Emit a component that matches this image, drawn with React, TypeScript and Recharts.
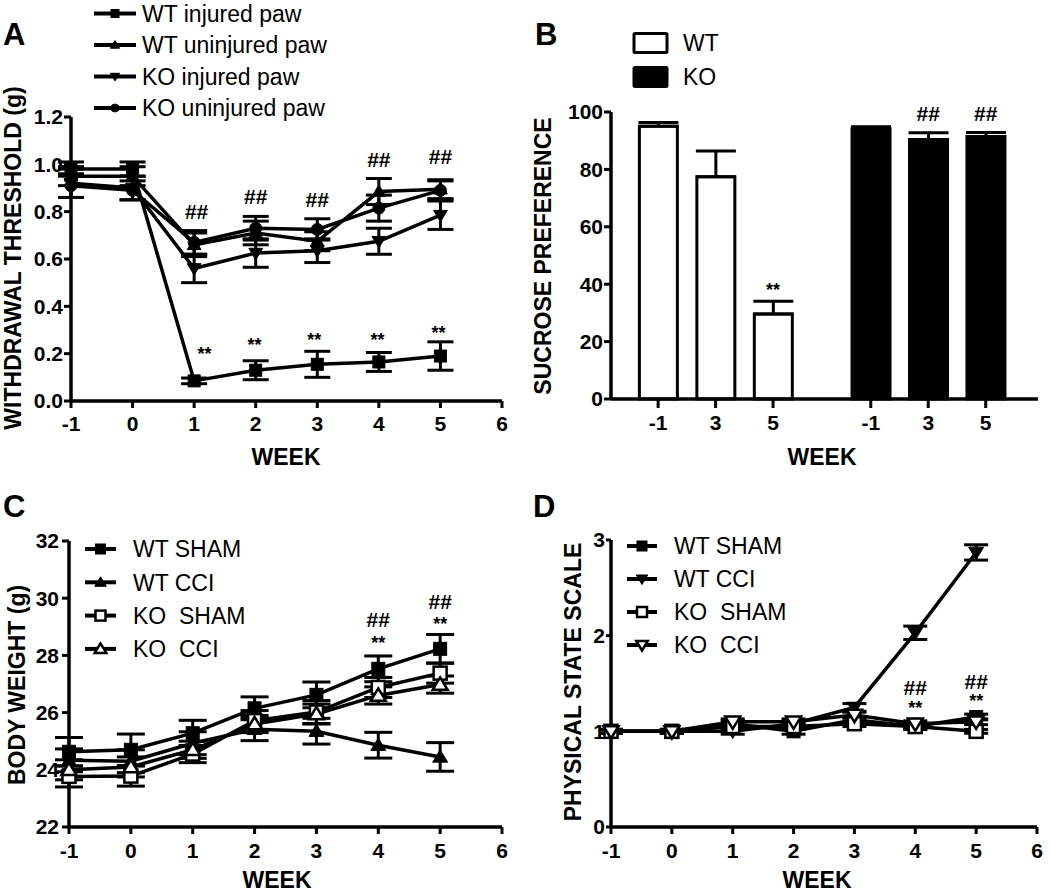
import React from 'react';
import {
  LineChart, Line, BarChart, Bar, Cell, XAxis, YAxis, ErrorBar, ReferenceDot, Legend,
} from 'recharts';

const FONT = '"Liberation Sans", Arial, Helvetica, sans-serif';

// ---------- shared ----------
const WEEKS = [-1, 0, 1, 2, 3, 4, 5];
const WEEK_TICKS = [-1, 0, 1, 2, 3, 4, 5, 6];

// ---------- Panel A: withdrawal threshold ----------
const A_WT_INJ = [0.98, 0.98, 0.085, 0.13, 0.155, 0.165, 0.19];
const A_WT_INJ_ERR = [0.03, 0.03, 0.012, 0.04, 0.055, 0.04, 0.06];
const A_WT_UNINJ = [0.95, 0.95, 0.66, 0.71, 0.675, 0.885, 0.895];
const A_WT_UNINJ_ERR = [0.04, 0.04, 0.05, 0.05, 0.04, 0.055, 0.04];
const A_KO_INJ = [0.92, 0.9, 0.56, 0.625, 0.635, 0.675, 0.785];
const A_KO_INJ_ERR = [0.06, 0.05, 0.06, 0.06, 0.05, 0.055, 0.06];
const A_KO_UNINJ = [0.91, 0.89, 0.67, 0.73, 0.725, 0.815, 0.89];
const A_KO_UNINJ_ERR = [0.05, 0.04, 0.05, 0.05, 0.045, 0.055, 0.04];
const A_Y_TICKS = [0, 0.2, 0.4, 0.6, 0.8, 1.0, 1.2];
const A_HASH_X = [1.04, 2, 3, 4, 5];
const A_HASH_Y = [0.8, 0.865, 0.85, 1.02, 1.035];
const A_STAR_X = [1.17, 1.98, 2.95, 3.98, 4.97];
const A_STAR_Y = [0.2, 0.24, 0.26, 0.26, 0.29];

// ---------- Panel B: sucrose preference ----------
const B_WEEK_LABELS = ['-1', '3', '5'];
const B_WT = [95, 77.4, 29.6];
const B_WT_ERR = [1.3, 9, 4.5];
const B_KO = [94.2, 90.4, 91.5];
const B_KO_ERR = [0.7, 2.4, 1.4];
const B_Y_TICKS = [0, 20, 40, 60, 80, 100];
const B_WT_STAR_Y = [null, null, 38];
const B_KO_HASH_Y = [null, 99.5, 99.5];

// ---------- Panel C: body weight ----------
const C_WT_SHAM = [24.63, 24.7, 25.28, 26.15, 26.62, 27.53, 28.23];
const C_WT_SHAM_ERR = [0.5, 0.55, 0.45, 0.4, 0.45, 0.45, 0.5];
const C_WT_CCI = [24.33, 24.3, 24.93, 25.42, 25.35, 24.86, 24.45];
const C_WT_CCI_ERR = [0.4, 0.4, 0.4, 0.4, 0.45, 0.45, 0.5];
const C_KO_SHAM = [23.77, 23.78, 24.55, 25.72, 26.02, 26.88, 27.38];
const C_KO_SHAM_ERR = [0.37, 0.35, 0.3, 0.35, 0.4, 0.35, 0.35];
const C_KO_CCI = [24.0, 24.1, 24.7, 25.6, 25.95, 26.6, 26.98];
const C_KO_CCI_ERR = [0.35, 0.35, 0.3, 0.3, 0.35, 0.3, 0.3];
const C_Y_TICKS = [22, 24, 26, 28, 30, 32];
const C_HASH_X = [4, 5];
const C_HASH_Y = [29.24, 29.9];
const C_STAR_X = [4, 5];
const C_STAR_Y = [28.45, 29.1];

// ---------- Panel D: physical state scale ----------
const D_WT_SHAM = [1, 1, 1.08, 1.0, 1.12, 1.05, 1.15];
const D_WT_SHAM_ERR = [0.02, 0.02, 0.03, 0.03, 0.03, 0.03, 0.03];
const D_WT_CCI = [1, 1, 1.0, 1.08, 1.25, 2.03, 2.87];
const D_WT_CCI_ERR = [0.02, 0.02, 0.03, 0.03, 0.04, 0.07, 0.08];
const D_KO_SHAM = [1, 1, 1.05, 1.05, 1.08, 1.05, 1.0];
const D_KO_SHAM_ERR = [0.02, 0.02, 0.03, 0.03, 0.03, 0.03, 0.02];
const D_KO_CCI = [1, 1, 1.1, 1.1, 1.17, 1.08, 1.1];
const D_KO_CCI_ERR = [0.02, 0.02, 0.03, 0.03, 0.03, 0.03, 0.03];
const D_Y_TICKS = [0, 1, 2, 3];
const D_HASH_X = [4, 5];
const D_HASH_Y = [1.46, 1.52];
const D_STAR_X = [4, 5];
const D_STAR_Y = [1.25, 1.32];

type Shape = 'square' | 'up' | 'down' | 'circle';
type Series = { key: string; name: string; shape: Shape; filled: boolean; values: number[]; errs: number[] };

const A_SERIES: Series[] = [
  { key: 'a0', name: 'WT injured paw', shape: 'square', filled: true, values: A_WT_INJ, errs: A_WT_INJ_ERR },
  { key: 'a1', name: 'WT uninjured paw', shape: 'up', filled: true, values: A_WT_UNINJ, errs: A_WT_UNINJ_ERR },
  { key: 'a2', name: 'KO injured paw', shape: 'down', filled: true, values: A_KO_INJ, errs: A_KO_INJ_ERR },
  { key: 'a3', name: 'KO uninjured paw', shape: 'circle', filled: true, values: A_KO_UNINJ, errs: A_KO_UNINJ_ERR },
];
const C_SERIES: Series[] = [
  { key: 'c0', name: 'WT SHAM', shape: 'square', filled: true, values: C_WT_SHAM, errs: C_WT_SHAM_ERR },
  { key: 'c1', name: 'WT CCI', shape: 'up', filled: true, values: C_WT_CCI, errs: C_WT_CCI_ERR },
  { key: 'c2', name: 'KO  SHAM', shape: 'square', filled: false, values: C_KO_SHAM, errs: C_KO_SHAM_ERR },
  { key: 'c3', name: 'KO  CCI', shape: 'up', filled: false, values: C_KO_CCI, errs: C_KO_CCI_ERR },
];
const D_SERIES: Series[] = [
  { key: 'd0', name: 'WT SHAM', shape: 'square', filled: true, values: D_WT_SHAM, errs: D_WT_SHAM_ERR },
  { key: 'd1', name: 'WT CCI', shape: 'down', filled: true, values: D_WT_CCI, errs: D_WT_CCI_ERR },
  { key: 'd2', name: 'KO  SHAM', shape: 'square', filled: false, values: D_KO_SHAM, errs: D_KO_SHAM_ERR },
  { key: 'd3', name: 'KO  CCI', shape: 'down', filled: false, values: D_KO_CCI, errs: D_KO_CCI_ERR },
];

function buildRows(series: Series[]) {
  return WEEKS.map((w, i) => {
    const row: any = { week: w };
    series.forEach((s) => {
      row[s.key] = s.values[i];
      row[s.key + 'E'] = s.errs[i];
    });
    return row;
  });
}

function Marker({ cx, cy, shape, filled, size }: { cx: number; cy: number; shape: Shape; filled: boolean; size: number }) {
  const h = size / 2;
  const fill = filled ? '#000' : '#fff';
  const sw = filled ? 1 : 2.5;
  if (shape === 'square') {
    return <rect x={cx - h} y={cy - h} width={size} height={size} fill={fill} stroke="#000" strokeWidth={sw} />;
  }
  if (shape === 'circle') {
    return <circle cx={cx} cy={cy} r={h} fill={fill} stroke="#000" strokeWidth={sw} />;
  }
  const w = h * 1.15;
  if (shape === 'up') {
    return (
      <polygon
        points={`${cx},${cy - h * 1.1} ${cx - w},${cy + h * 0.8} ${cx + w},${cy + h * 0.8}`}
        fill={fill} stroke="#000" strokeWidth={sw} strokeLinejoin="miter"
      />
    );
  }
  return (
    <polygon
      points={`${cx},${cy + h * 1.1} ${cx - w},${cy - h * 0.8} ${cx + w},${cy - h * 0.8}`}
      fill={fill} stroke="#000" strokeWidth={sw} strokeLinejoin="miter"
    />
  );
}

function LegendRows({ items, x0, x1, tx, y0, dy, fs, ms }: any) {
  return (
    <svg width={460} height={y0 + dy * items.length + 20} style={{ display: 'block', overflow: 'visible' }}>
      {items.map((it: Series, i: number) => {
        const y = y0 + i * dy;
        return (
          <g key={it.key}>
            <line x1={x0} x2={x1} y1={y} y2={y} stroke="#000" strokeWidth={4} />
            <Marker cx={(x0 + x1) / 2} cy={y} shape={it.shape} filled={it.filled} size={ms} />
            <text
              x={tx} y={y + fs * 0.36} fontSize={fs} fontFamily={FONT} fill="#000"
              style={{ whiteSpace: 'pre' }}
            >
              {it.name}
            </text>
          </g>
        );
      })}
    </svg>
  );
}

function BarLegend({ x0, w, h, tx, y0, dy, fs }: any) {
  const items = [
    { name: 'WT', fill: '#fff' },
    { name: 'KO', fill: '#000' },
  ];
  return (
    <svg width={300} height={140} style={{ display: 'block', overflow: 'visible' }}>
      {items.map((it, i) => {
        const y = y0 + i * dy;
        return (
          <g key={it.name}>
            <rect x={x0} y={y - h / 2} width={w} height={h} fill={it.fill} stroke="#000" strokeWidth={3} rx={1} />
            <text x={tx} y={y + fs * 0.36} fontSize={fs} fontFamily={FONT} fill="#000">{it.name}</text>
          </g>
        );
      })}
    </svg>
  );
}

function AxisTitle({ tx, ty, text, rotate }: any) {
  return (
    <text
      x={tx} y={ty} textAnchor="middle" fontSize={23} fontWeight={700} fontFamily={FONT} fill="#000"
      transform={rotate ? `rotate(-90, ${tx}, ${ty})` : undefined}
    >
      {text}
    </text>
  );
}

function PanelLetter({ letter, x, y }: { letter: string; x: number; y: number }) {
  return (
    <svg width={60} height={60} style={{ position: 'absolute', left: 0, top: 0, overflow: 'visible', pointerEvents: 'none' }}>
      <text x={x} y={y} fontSize={31} fontWeight={700} fontFamily={FONT} fill="#000">{letter}</text>
    </svg>
  );
}

const TICK_STYLE = { fill: '#000', fontSize: 21, fontWeight: 700, fontFamily: FONT };
const AXIS_LINE = { stroke: '#000', strokeWidth: 3.5 };
const TICK_LINE = { stroke: '#000', strokeWidth: 3 };

function annotationDots(xs: number[], ys: number[], text: string, fs: number) {
  return xs.map((x, i) => (
    <ReferenceDot
      key={`${text}-${i}`}
      x={x}
      y={ys[i]}
      r={0}
      fill="none"
      stroke="none"
      isFront
      label={{ value: text, position: 'center', fill: '#000', fontSize: fs, fontWeight: 700, fontFamily: FONT }}
    />
  ));
}

function seriesLines(series: Series[], markerSize: number, capWidth: number) {
  return series.map((s) => (
    <Line
      key={s.key}
      dataKey={s.key}
      name={s.name}
      type="linear"
      stroke="#000"
      strokeWidth={3.5}
      isAnimationActive={false}
      activeDot={false}
      dot={(p: any) => {
        if (p.cx == null || p.cy == null) return <g key={`${s.key}-${p.index}`} />;
        return (
          <g key={`${s.key}-${p.index}`}>
            <Marker cx={p.cx} cy={p.cy} shape={s.shape} filled={s.filled} size={markerSize} />
          </g>
        );
      }}
    >
      <ErrorBar dataKey={s.key + 'E'} width={capWidth} strokeWidth={3} stroke="#000" direction="y" />
    </Line>
  ));
}

function PanelA() {
  const rows = buildRows(A_SERIES);
  return (
    <div style={{ position: 'absolute', left: 0, top: 0, width: 525, height: 470 }}>
      <LineChart width={525} height={470} data={rows} margin={{ top: 117, right: 23, bottom: 0, left: 0 }}>
        <XAxis
          dataKey="week" type="number" domain={[-1, 6]} ticks={WEEK_TICKS} interval={0}
          height={69} tickSize={7} tickMargin={8} axisLine={AXIS_LINE} tickLine={TICK_LINE} tick={TICK_STYLE}
          label={<AxisTitle tx={286} ty={465} text="WEEK" />}
        />
        <YAxis
          type="number" domain={[0, 1.2]} ticks={A_Y_TICKS} interval={0} width={71}
          tickSize={7} tickMargin={1} axisLine={AXIS_LINE} tickLine={TICK_LINE} tick={TICK_STYLE}
          tickFormatter={(v: number) => v.toFixed(1)}
          label={<AxisTitle tx={21} ty={258} text="WITHDRAWAL THRESHOLD (g)" rotate />}
        />
        {seriesLines(A_SERIES, 12, 13)}
        {annotationDots(A_HASH_X, A_HASH_Y, '##', 21)}
        {annotationDots(A_STAR_X, A_STAR_Y, '**', 18)}
        <Legend
          layout="vertical" align="center" verticalAlign="middle"
          wrapperStyle={{ position: 'absolute', left: 0, top: 0, width: 460, height: 140, pointerEvents: 'none' }}
          content={() => <LegendRows items={A_SERIES} x0={94} x1={136} tx={142} y0={13.5} dy={31.5} fs={23} ms={8} />}
        />
      </LineChart>
      <PanelLetter letter="A" x={3} y={45} />
    </div>
  );
}

function PanelB() {
  const GROUP_GAP = 3.7;
  const rows = [
    ...B_WT.map((v, i) => ({ pos: i, label: B_WEEK_LABELS[i], v, e: [0, B_WT_ERR[i]], ko: false })),
    ...B_KO.map((v, i) => ({ pos: i + GROUP_GAP, label: B_WEEK_LABELS[i], v, e: [0, B_KO_ERR[i]], ko: true })),
  ];
  const ticks = rows.map((r) => r.pos);
  const labelFor = (p: number) => {
    const r = rows.find((row) => Math.abs(row.pos - p) < 1e-6);
    return r ? r.label : '';
  };
  const starXs: number[] = [];
  const starYs: number[] = [];
  B_WT_STAR_Y.forEach((y, i) => { if (y != null) { starXs.push(i); starYs.push(y); } });
  const hashXs: number[] = [];
  const hashYs: number[] = [];
  B_KO_HASH_Y.forEach((y, i) => { if (y != null) { hashXs.push(i + GROUP_GAP); hashYs.push(y); } });
  return (
    <div style={{ position: 'absolute', left: 525, top: 0, width: 525, height: 470 }}>
      <BarChart width={525} height={470} data={rows} margin={{ top: 112, right: 12, bottom: 0, left: 0 }}>
        <XAxis
          dataKey="pos" type="number" domain={[-0.82, 6.61]} ticks={ticks} interval={0} allowDataOverflow
          height={71} tickSize={9} tickMargin={7} axisLine={AXIS_LINE} tickLine={TICK_LINE} tick={TICK_STYLE}
          tickFormatter={labelFor}
          label={<AxisTitle tx={297} ty={465} text="WEEK" />}
        />
        <YAxis
          type="number" domain={[0, 100]} ticks={B_Y_TICKS} interval={0} width={86}
          tickSize={7} tickMargin={1} axisLine={AXIS_LINE} tickLine={TICK_LINE} tick={TICK_STYLE}
          label={<AxisTitle tx={26} ty={256} text="SUCROSE PREFERENCE" rotate />}
        />
        <Bar dataKey="v" barSize={38} stroke="#000" strokeWidth={3} isAnimationActive={false}>
          {rows.map((r, i) => (
            <Cell key={i} fill={r.ko ? '#000' : '#fff'} />
          ))}
          <ErrorBar dataKey="e" width={20} strokeWidth={3} stroke="#000" direction="y" />
        </Bar>
        {annotationDots(starXs, starYs, '**', 18)}
        {annotationDots(hashXs, hashYs, '##', 21)}
        <Legend
          layout="vertical" align="center" verticalAlign="middle"
          wrapperStyle={{ position: 'absolute', left: 0, top: 0, width: 300, height: 140, pointerEvents: 'none' }}
          content={() => <BarLegend x0={109} w={33} h={19} tx={158} y0={43} dy={34} fs={23} />}
        />
      </BarChart>
      <PanelLetter letter="B" x={10} y={45} />
    </div>
  );
}

function PanelC() {
  const rows = buildRows(C_SERIES);
  return (
    <div style={{ position: 'absolute', left: 0, top: 470, width: 525, height: 423 }}>
      <LineChart width={525} height={423} data={rows} margin={{ top: 71, right: 23, bottom: 0, left: 0 }}>
        <XAxis
          dataKey="week" type="number" domain={[-1, 6]} ticks={WEEK_TICKS} interval={0}
          height={66} tickSize={7} tickMargin={9} axisLine={AXIS_LINE} tickLine={TICK_LINE} tick={TICK_STYLE}
          label={<AxisTitle tx={277} ty={418} text="WEEK" />}
        />
        <YAxis
          type="number" domain={[22, 32]} ticks={C_Y_TICKS} interval={0} width={69}
          tickSize={7} tickMargin={3} axisLine={AXIS_LINE} tickLine={TICK_LINE} tick={TICK_STYLE}
          label={<AxisTitle tx={25} ty={215} text="BODY WEIGHT (g)" rotate />}
        />
        {seriesLines(C_SERIES, 13, 14)}
        {annotationDots(C_HASH_X, C_HASH_Y, '##', 21)}
        {annotationDots(C_STAR_X, C_STAR_Y, '**', 18)}
        <Legend
          layout="vertical" align="center" verticalAlign="middle"
          wrapperStyle={{ position: 'absolute', left: 0, top: 0, width: 460, height: 200, pointerEvents: 'none' }}
          content={() => <LegendRows items={C_SERIES} x0={85} x1={116} tx={133} y0={79} dy={33.3} fs={23} ms={10} />}
        />
      </LineChart>
      <PanelLetter letter="C" x={3} y={47} />
    </div>
  );
}

function PanelD() {
  const rows = buildRows(D_SERIES);
  return (
    <div style={{ position: 'absolute', left: 525, top: 470, width: 525, height: 423 }}>
      <LineChart width={525} height={423} data={rows} margin={{ top: 70, right: 13, bottom: 0, left: 0 }}>
        <XAxis
          dataKey="week" type="number" domain={[-1, 6]} ticks={WEEK_TICKS} interval={0}
          height={66} tickSize={7} tickMargin={9} axisLine={AXIS_LINE} tickLine={TICK_LINE} tick={TICK_STYLE}
          label={<AxisTitle tx={292} ty={418} text="WEEK" />}
        />
        <YAxis
          type="number" domain={[0, 3]} ticks={D_Y_TICKS} interval={0} width={86}
          tickSize={5} tickMargin={1} axisLine={AXIS_LINE} tickLine={TICK_LINE} tick={TICK_STYLE}
          label={<AxisTitle tx={56} ty={212} text="PHYSICAL STATE SCALE" rotate />}
        />
        {seriesLines(D_SERIES, 13, 12)}
        {annotationDots(D_HASH_X, D_HASH_Y, '##', 21)}
        {annotationDots(D_STAR_X, D_STAR_Y, '**', 18)}
        <Legend
          layout="vertical" align="center" verticalAlign="middle"
          wrapperStyle={{ position: 'absolute', left: 0, top: 0, width: 460, height: 200, pointerEvents: 'none' }}
          content={() => <LegendRows items={D_SERIES} x0={102} x1={132} tx={149} y0={76} dy={33} fs={23} ms={10} />}
        />
      </LineChart>
      <PanelLetter letter="D" x={8} y={47} />
    </div>
  );
}

export default function App() {
  return (
    <div style={{ position: 'absolute', left: 0, top: 0, width: 1050, height: 893, background: '#fff', overflow: 'hidden' }}>
      <PanelA />
      <PanelB />
      <PanelC />
      <PanelD />
    </div>
  );
}
